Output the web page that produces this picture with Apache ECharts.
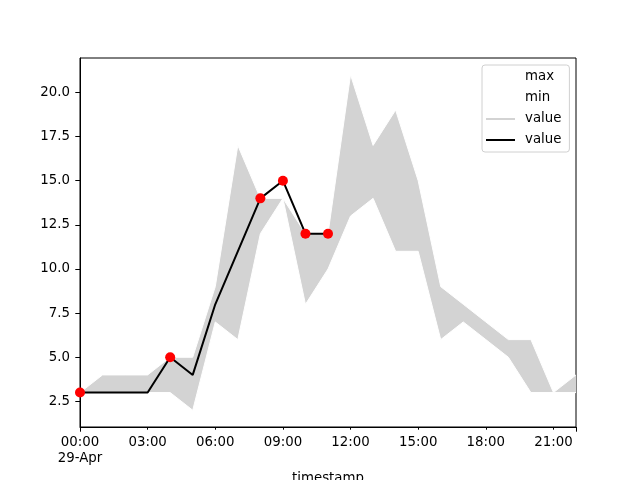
<!DOCTYPE html>
<html>
<head>
<meta charset="utf-8">
<script src="https://cdn.jsdelivr.net/npm/echarts@6/dist/echarts.min.js"></script>
<style>html,body{margin:0;padding:0;background:#fff}#c{width:640px;height:480px}</style>
</head>
<body>
<div id="c"></div>
<script>
var categories = ['00:00','01:00','02:00','03:00','04:00','05:00','06:00','07:00','08:00','09:00','10:00','11:00',
                  '12:00','13:00','14:00','15:00','16:00','17:00','18:00','19:00','20:00','21:00','22:00'];
var dateLabel = '29-Apr';
var maxValues = [3,4,4,4,5,5,9,17,14,14,12,12,21,17,19,15,9,8,7,6,6,3,4];
var minValues = [3,3,3,3,3,2,7,6,12,14,8,10,13,14,11,11,6,7,6,5,3,3,3];
var valueValues = [3,3,3,3,5,4,8,11,14,15,12,12];
var markerPoints = [[0,3],[4,5],[8,14],[9,15],[10,12],[11,12]];
var yTicks = [2.5,5.0,7.5,10.0,12.5,15.0,17.5,20.0];

var bandValues = maxValues.map(function(v,i){ return v - minValues[i]; });
var font = 'DejaVu Sans';

var chart = echarts.init(document.getElementById('c'), null, {renderer:'canvas'});
chart.setOption({
  animation: false,
  backgroundColor: '#fff',
  grid: {left: 80, right: 64, top: 58, bottom: 53, show: true, borderColor: '#000', borderWidth: 1,
         backgroundColor: 'transparent', containLabel: false, outerBoundsMode: 'none'},
  legend: {
    orient: 'vertical', left: 482, top: 65,
    data: ['max','min','value','value '],
    icon: 'rect', itemWidth: 29, itemHeight: 2, itemGap: 5,
    padding: [4, 8, 4, 4],
    borderColor: '#d0d0d0', borderWidth: 1, borderRadius: 3,
    backgroundColor: 'rgba(255,255,255,0.8)',
    formatter: function(n){ return n.trim(); },
    textStyle: {fontFamily: font, fontSize: 13.33, color: '#000', lineHeight: 16, padding: [0,0,0,5]}
  },
  xAxis: [{
    type: 'category', data: categories, boundaryGap: false,
    axisLine: {lineStyle: {color: '#000', width: 1}},
    axisTick: {length: 2.7, lineStyle: {color: '#000'}, interval: function(i){ return i % 3 === 0; }},
    axisLabel: {
      interval: function(i){ return i % 3 === 0; },
      fontFamily: font, fontSize: 13.33, color: '#000', margin: 8, lineHeight: 16,
      formatter: function(v, i){ return i === 0 ? v + '\n' + dateLabel : v; }
    },
    splitLine: {show: false},
    name: 'timestamp', nameLocation: 'middle', nameGap: 43,
    nameTextStyle: {fontFamily: font, fontSize: 13.33, color: '#000'}
  }, {
    type: 'category', data: categories, boundaryGap: false, position: 'bottom',
    axisLine: {show: false},
    axisTick: {length: 4.7, lineStyle: {color: '#000'}, interval: function(i){ return i === 0 || i === categories.length - 1; }},
    axisLabel: {show: false}, splitLine: {show: false}
  }],
  yAxis: {
    type: 'value', min: 1.05, max: 21.95,
    axisLine: {show: true, lineStyle: {color: '#000', width: 1}},
    axisTick: {show: true, length: 4.7, lineStyle: {color: '#000'}, customValues: yTicks},
    axisLabel: {fontFamily: font, fontSize: 13.33, color: '#000', margin: 10, customValues: yTicks,
      formatter: function(v){ return v.toFixed(1); }},
    splitLine: {show: false}
  },
  series: [
    {name: '_base', type: 'line', stack: 'band', data: minValues, symbol: 'none',
     lineStyle: {opacity: 0}, silent: true, z: 1},
    {name: 'value', type: 'line', stack: 'band', data: bandValues, symbol: 'none',
     color: '#d3d3d3', lineStyle: {opacity: 0}, areaStyle: {color: '#d3d3d3', opacity: 1}, z: 1},
    {name: 'max', type: 'line', data: maxValues, symbol: 'none', color: '#ffffff',
     lineStyle: {color: '#ffffff', width: 1}, z: 2},
    {name: 'min', type: 'line', data: minValues, symbol: 'none', color: '#ffffff',
     lineStyle: {color: '#ffffff', width: 1}, z: 2},
    {name: 'value ', type: 'line', data: valueValues, symbol: 'none', color: '#000000',
     lineStyle: {color: '#000000', width: 2}, z: 3},
    {name: 'markers', type: 'scatter', data: markerPoints, symbol: 'circle', symbolSize: 10,
     itemStyle: {color: '#ff0000', opacity: 1}, z: 4}
  ]
});
</script>
</body>
</html>
